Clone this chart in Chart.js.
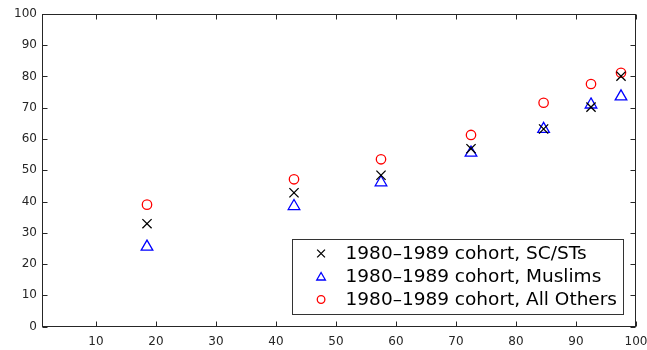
<!DOCTYPE html>
<html>
<head>
<meta charset="utf-8">
<script src="https://cdn.jsdelivr.net/npm/chart.js@4/dist/chart.umd.min.js"></script>
<style>
  html, body { margin: 0; padding: 0; background: #fff; }
  #c { display: block; }
</style>
</head>
<body>
<canvas id="c" width="647" height="350"></canvas>
<script>
// Positions along the horizontal axis
const xPos = [18.5, 43.0, 57.5, 72.5, 84.6, 92.5, 97.5];
// Series values
const scst = [32.9, 42.8, 48.4, 56.9, 63.2, 70.2, 80.1];
const muslims = [25.5, 38.5, 46.1, 55.6, 63.2, 71.0, 73.6];
const others = [39.0, 47.1, 53.5, 61.3, 71.6, 77.6, 81.2];
// Series names
const seriesLabels = ['1980\u20131989 cohort, SC/STs', '1980\u20131989 cohort, Muslims', '1980\u20131989 cohort, All Others'];
// Tick values
const xTicks = [10, 20, 30, 40, 50, 60, 70, 80, 90, 100];
const yTicks = [0, 10, 20, 30, 40, 50, 60, 70, 80, 90, 100];

const AXIS = '#262626';
const toPts = (ys) => ys.map((y, i) => ({ x: xPos[i], y }));

// Box around the plot with inward tick marks on all four sides
const frame = {
  id: 'frame',
  afterDraw(chart) {
    const { ctx, chartArea: a, scales } = chart;
    const l = Math.round(a.left) + 0.5, r = Math.round(a.right) - 0.5;
    const t = Math.round(a.top) + 0.5, b = Math.round(a.bottom) - 0.5;
    ctx.save();
    ctx.strokeStyle = AXIS;
    ctx.lineWidth = 1;
    ctx.strokeRect(l, t, r - l, b - t);
    const L = 5;
    ctx.beginPath();
    xTicks.forEach(v => {
      const px = Math.round(scales.x.getPixelForValue(v)) + 0.5;
      ctx.moveTo(px, b); ctx.lineTo(px, b - L);
      ctx.moveTo(px, t); ctx.lineTo(px, t + L);
    });
    yTicks.forEach(v => {
      const py = Math.round(scales.y.getPixelForValue(v)) + 0.5;
      ctx.moveTo(l, py); ctx.lineTo(l + L, py);
      ctx.moveTo(r, py); ctx.lineTo(r - L, py);
    });
    ctx.stroke();
    ctx.restore();
  }
};

// Boxed legend placed inside the lower right of the plot
const insideLegend = {
  id: 'insideLegend',
  afterDraw(chart) {
    const { ctx, chartArea: a } = chart;
    ctx.save();
    ctx.font = '18.5px "DejaVu Sans", sans-serif';
    const rowH = 23;
    const textW = Math.max(...chart.data.datasets.map(d => ctx.measureText(d.label).width));
    const w = 53.5 + textW + 6;
    const h = rowH * chart.data.datasets.length + 5.5;
    const right = a.right - 13;
    const bottom = a.bottom - 13;
    const left = right - w, top = bottom - h;
    ctx.fillStyle = '#fff';
    ctx.fillRect(left, top, w, h);
    ctx.strokeStyle = '#333';
    ctx.lineWidth = 1;
    ctx.strokeRect(Math.round(left) + 0.5, Math.round(top) + 0.5, Math.round(w), Math.round(h));
    chart.data.datasets.forEach((d, i) => {
      const cy = top + 14.5 + rowH * i;
      ctx.strokeStyle = d.borderColor;
      ctx.lineWidth = d.borderWidth;
      ctx.fillStyle = 'rgba(0,0,0,0)';
      Chart.helpers.drawPoint(ctx, {
        pointStyle: d.pointStyle,
        radius: d.legendRadius,
        borderWidth: d.borderWidth
      }, left + 29, cy + (d.pointStyle === 'triangle' ? 1 : 0));
      ctx.fillStyle = '#000';
      ctx.textBaseline = 'middle';
      ctx.textAlign = 'left';
      ctx.fillText(d.label, left + 53.5, cy + 1);
    });
    ctx.restore();
  }
};

new Chart(document.getElementById('c'), {
  type: 'scatter',
  data: {
    datasets: [
      { label: seriesLabels[0], data: toPts(scst), pointStyle: 'crossRot', radius: 6.5, legendRadius: 5.5,
        borderColor: '#000', backgroundColor: 'rgba(0,0,0,0)', borderWidth: 1.3 },
      { label: seriesLabels[1], data: toPts(muslims), pointStyle: 'triangle', radius: 6.7, legendRadius: 5,
        borderColor: '#0000ff', backgroundColor: 'rgba(0,0,0,0)', borderWidth: 1.3 },
      { label: seriesLabels[2], data: toPts(others), pointStyle: 'circle', radius: 4.7, legendRadius: 3.8,
        borderColor: '#ff0000', backgroundColor: 'rgba(0,0,0,0)', borderWidth: 1.3 }
    ]
  },
  options: {
    responsive: false,
    animation: false,
    devicePixelRatio: 1,
    layout: { padding: { left: 0, top: 14, right: 11, bottom: 0 } },
    plugins: { legend: { display: false }, tooltip: { enabled: false } },
    scales: {
      x: {
        type: 'linear', min: 1, max: 100,
        border: { display: false },
        grid: { display: false, drawTicks: false },
        afterBuildTicks: (s) => { s.ticks = xTicks.map(v => ({ value: v })); },
        afterFit: (s) => { s.height = 23.5; s.paddingLeft = 0; s.paddingRight = 0; },
        ticks: { padding: 8, color: AXIS, font: { family: 'DejaVu Sans', size: 12 }, maxRotation: 0, autoSkip: false }
      },
      y: {
        type: 'linear', min: 0, max: 100,
        border: { display: false },
        grid: { display: false, drawTicks: false },
        afterBuildTicks: (s) => { s.ticks = yTicks.map(v => ({ value: v })); },
        afterFit: (s) => { s.width = 42; s.paddingTop = 0; s.paddingBottom = 0; },
        ticks: { padding: 5, color: AXIS, font: { family: 'DejaVu Sans', size: 12 } }
      }
    }
  },
  plugins: [frame, insideLegend]
});
</script>
</body>
</html>
